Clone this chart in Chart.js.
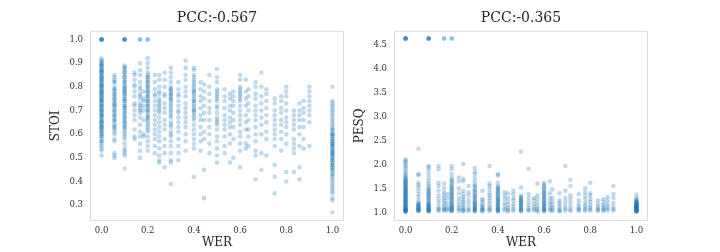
<!DOCTYPE html>
<html>
<head>
<meta charset="utf-8">
<script src="https://cdn.jsdelivr.net/npm/chart.js@4"></script>
<style>
  html, body { margin: 0; padding: 0; background: #fff; }
  .row { display: flex; width: 720px; height: 252px; }
  canvas { display: block; }
</style>
</head>
<body>
<div class="row">
  <canvas id="StoiChart" width="350" height="252"></canvas>
  <canvas id="PesqChart" width="370" height="252"></canvas>
</div>
<script>
// WER levels found in the test set (columns of points)
const werLevels = [0, 0.056, 0.1, 0.143, 0.167, 0.182, 0.2, 0.231, 0.25, 0.273, 0.3, 0.333, 0.364, 0.4, 0.429, 0.444, 0.467, 0.5, 0.533, 0.556, 0.571, 0.6, 0.625, 0.636, 0.667, 0.692, 0.714, 0.75, 0.778, 0.8, 0.833, 0.857, 0.875, 0.9, 1.0];

// STOI per WER level
const stoiByWer = [
    [0.92,0.91,0.91,0.90,0.90,0.89,0.89,0.89,0.88,0.88,0.87,0.87,0.87,0.86,0.86,0.86,0.85,0.85,0.84,0.84,0.84,0.83,0.83,0.83,0.82,0.82,0.81,0.81,0.81,0.80,0.80,0.80,0.79,0.79,0.78,0.78,0.78,0.77,0.77,0.77,0.76,0.76,0.75,0.75,0.75,0.74,0.74,0.74,0.73,0.73,0.72,0.72,0.72,0.71,0.71,0.70,0.70,0.70,0.69,0.69,0.68,0.68,0.68,0.67,0.67,0.66,0.66,0.65,0.65,0.65,0.64,0.64,0.63,0.63,0.63,0.62,0.62,0.61,0.61,0.60,0.60,0.59,0.59,0.58,0.57,0.57,0.56,0.55,0.54,0.53,0.51],
    [0.85,0.84,0.83,0.82,0.82,0.80,0.79,0.79,0.78,0.77,0.77,0.76,0.75,0.75,0.74,0.73,0.73,0.72,0.72,0.71,0.70,0.70,0.69,0.68,0.68,0.67,0.66,0.66,0.65,0.64,0.63,0.63,0.62,0.61,0.60,0.58,0.57,0.52,0.51,0.50],
    [0.89,0.88,0.88,0.87,0.86,0.86,0.85,0.84,0.84,0.83,0.82,0.82,0.81,0.80,0.80,0.79,0.79,0.78,0.78,0.77,0.77,0.76,0.75,0.75,0.74,0.74,0.73,0.72,0.72,0.71,0.71,0.70,0.69,0.69,0.68,0.67,0.67,0.66,0.65,0.65,0.64,0.63,0.63,0.62,0.61,0.60,0.59,0.58,0.56,0.54,0.53,0.52,0.51,0.455],
    [0.86,0.85,0.83,0.81,0.80,0.78,0.76,0.73,0.72,0.70,0.68,0.66,0.62,0.59,0.58],
    [0.90,0.87,0.85,0.82,0.80,0.79,0.77,0.76,0.75,0.73,0.72,0.71,0.70,0.69,0.67,0.64,0.61,0.59,0.56,0.53,0.50],
    [0.78,0.75,0.74,0.72,0.70,0.66,0.60,0.59],
    [0.92,0.90,0.88,0.86,0.85,0.84,0.84,0.83,0.82,0.82,0.81,0.80,0.80,0.79,0.78,0.78,0.77,0.76,0.76,0.75,0.74,0.74,0.73,0.72,0.72,0.71,0.70,0.70,0.69,0.68,0.67,0.67,0.66,0.65,0.64,0.63,0.62,0.61,0.59,0.57,0.55,0.53],
    [0.85,0.82,0.79,0.77,0.76,0.74,0.72,0.70,0.68,0.66,0.64,0.62,0.60,0.58,0.55,0.52],
    [0.85,0.83,0.80,0.78,0.77,0.75,0.74,0.73,0.72,0.71,0.70,0.69,0.67,0.65,0.63,0.61,0.59,0.57,0.54,0.51,0.49,0.48],
    [0.86,0.83,0.80,0.77,0.76,0.73,0.71,0.69,0.66,0.64,0.62,0.58,0.55,0.52,0.46],
    [0.88,0.86,0.84,0.82,0.80,0.79,0.79,0.78,0.77,0.77,0.76,0.75,0.75,0.74,0.73,0.72,0.71,0.70,0.69,0.68,0.67,0.65,0.64,0.63,0.61,0.60,0.59,0.57,0.55,0.52,0.49,0.48,0.39],
    [0.82,0.79,0.77,0.76,0.74,0.72,0.70,0.69,0.67,0.65,0.63,0.61,0.58,0.55,0.52,0.49],
    [0.91,0.88,0.85,0.83,0.80,0.78,0.76,0.73,0.71,0.69,0.67,0.65,0.63,0.60,0.57,0.53],
    [0.88,0.87,0.85,0.84,0.83,0.82,0.81,0.80,0.79,0.78,0.78,0.77,0.76,0.75,0.74,0.74,0.73,0.72,0.71,0.70,0.70,0.69,0.68,0.67,0.66,0.64,0.62,0.60,0.58,0.56,0.54,0.42],
    [0.82,0.79,0.76,0.74,0.71,0.68,0.66,0.63,0.60,0.57,0.53],
    [0.81,0.78,0.75,0.72,0.69,0.66,0.61,0.58,0.45,0.33],
    [0.85,0.80,0.77,0.74,0.71,0.69,0.66,0.63,0.60,0.56,0.52],
    [0.875,0.84,0.82,0.79,0.78,0.77,0.76,0.75,0.74,0.72,0.71,0.69,0.67,0.66,0.65,0.64,0.62,0.59,0.57,0.54,0.51,0.48],
    [0.79,0.76,0.74,0.71,0.68,0.66,0.64,0.62,0.59,0.55,0.52],
    [0.77,0.75,0.72,0.70,0.67,0.65,0.63,0.60,0.56,0.48],
    [0.78,0.76,0.74,0.72,0.69,0.66,0.63,0.58,0.50],
    [0.85,0.83,0.80,0.79,0.78,0.77,0.76,0.75,0.74,0.72,0.70,0.68,0.66,0.64,0.61,0.59,0.56,0.53,0.46],
    [0.83,0.78,0.75,0.72,0.68,0.65,0.62,0.56,0.54],
    [0.79,0.76,0.73,0.70,0.66,0.62,0.59,0.55],
    [0.82,0.80,0.77,0.75,0.72,0.70,0.68,0.66,0.63,0.60,0.57,0.53,0.51,0.41],
    [0.86,0.80,0.76,0.73,0.70,0.67,0.64,0.60,0.52,0.45],
    [0.79,0.77,0.74,0.71,0.68,0.65,0.61,0.58,0.51],
    [0.75,0.73,0.70,0.68,0.66,0.64,0.62,0.60,0.58,0.55,0.47,0.42,0.35],
    [0.76,0.74,0.71,0.69,0.66,0.64,0.61,0.58,0.53],
    [0.80,0.78,0.76,0.73,0.70,0.67,0.65,0.63,0.60,0.56,0.44,0.40],
    [0.70,0.68,0.66,0.64,0.62,0.58,0.56,0.54,0.52,0.44],
    [0.73,0.70,0.68,0.66,0.63,0.60,0.55,0.46,0.41],
    [0.74,0.71,0.69,0.66,0.63,0.58,0.54],
    [0.80,0.78,0.76,0.74,0.72,0.70,0.68,0.65,0.55],
    [0.80,0.74,0.73,0.72,0.71,0.70,0.69,0.68,0.67,0.66,0.65,0.64,0.63,0.62,0.62,0.61,0.60,0.60,0.60,0.59,0.59,0.58,0.58,0.57,0.57,0.56,0.56,0.56,0.55,0.55,0.54,0.54,0.53,0.53,0.52,0.52,0.52,0.51,0.51,0.50,0.50,0.49,0.49,0.48,0.48,0.47,0.47,0.46,0.46,0.45,0.45,0.44,0.43,0.43,0.42,0.41,0.40,0.39,0.38,0.37,0.36,0.35,0.33,0.32,0.27],
];

// PESQ per WER level
const pesqByWer = [
    [2.11,2.08,2.05,2.01,1.97,1.93,1.88,1.84,1.80,1.77,1.74,1.71,1.70,1.68,1.66,1.65,1.63,1.62,1.60,1.58,1.57,1.55,1.54,1.52,1.50,1.49,1.48,1.46,1.45,1.43,1.42,1.41,1.39,1.38,1.36,1.35,1.34,1.32,1.31,1.29,1.28,1.27,1.25,1.24,1.23,1.21,1.20,1.19,1.17,1.16,1.15,1.13,1.12,1.11,1.10,1.09,1.08,1.07,1.06,1.05,1.04,1.04,1.03,1.03,1.02,1.02,1.01],
    [2.33,1.80,1.78,1.62,1.57,1.52,1.45,1.38,1.32,1.25,1.20,1.18,1.17,1.15,1.14,1.12,1.10,1.09,1.08,1.07,1.06,1.05,1.04,1.03,1.02],
    [1.97,1.94,1.88,1.80,1.72,1.65,1.60,1.55,1.50,1.48,1.45,1.42,1.40,1.38,1.35,1.33,1.30,1.28,1.25,1.23,1.20,1.18,1.17,1.15,1.14,1.12,1.11,1.10,1.08,1.07,1.06,1.05,1.04,1.03,1.02,1.02],
    [1.97,1.90,1.62,1.55,1.45,1.35,1.27,1.20,1.12,1.08,1.05,1.03],
    [1.60,1.50,1.42,1.36,1.30,1.25,1.20,1.15,1.10,1.07,1.05,1.03],
    [1.38,1.30,1.20,1.12,1.07,1.04],
    [1.97,1.90,1.80,1.72,1.68,1.65,1.62,1.58,1.55,1.52,1.50,1.47,1.45,1.42,1.40,1.37,1.35,1.32,1.30,1.27,1.25,1.22,1.20,1.18,1.15,1.13,1.12,1.10,1.08,1.07,1.05,1.04,1.03,1.02],
    [1.73,1.65,1.50,1.40,1.30,1.22,1.15,1.10,1.06,1.03],
    [2.01,1.70,1.65,1.45,1.38,1.32,1.27,1.22,1.18,1.13,1.09,1.06,1.04,1.02],
    [1.55,1.42,1.35,1.25,1.18,1.10,1.05,1.03],
    [1.93,1.85,1.80,1.72,1.65,1.58,1.55,1.52,1.47,1.45,1.42,1.38,1.35,1.33,1.30,1.28,1.24,1.22,1.20,1.18,1.16,1.14,1.12,1.10,1.09,1.07,1.06,1.04,1.03,1.02],
    [1.45,1.28,1.25,1.20,1.15,1.12,1.10,1.07,1.05,1.04,1.02],
    [1.97,1.60,1.55,1.48,1.40,1.35,1.30,1.24,1.18,1.12,1.08,1.05,1.03],
    [1.80,1.77,1.62,1.55,1.52,1.50,1.47,1.45,1.42,1.40,1.37,1.35,1.32,1.30,1.28,1.26,1.24,1.22,1.20,1.18,1.16,1.14,1.12,1.10,1.08,1.07,1.05,1.04,1.03,1.02],
    [1.42,1.35,1.28,1.20,1.14,1.08,1.04],
    [1.40,1.30,1.22,1.15,1.09,1.05,1.02],
    [1.45,1.38,1.30,1.25,1.18,1.12,1.07,1.03],
    [2.27,1.52,1.35,1.32,1.30,1.28,1.26,1.24,1.22,1.20,1.18,1.16,1.14,1.12,1.10,1.08,1.06,1.05,1.03,1.02],
    [1.91,1.38,1.30,1.22,1.15,1.09,1.05,1.03],
    [1.30,1.25,1.18,1.12,1.07,1.04],
    [1.60,1.35,1.28,1.20,1.13,1.08,1.04,1.02],
    [1.62,1.58,1.55,1.52,1.48,1.45,1.42,1.40,1.37,1.35,1.32,1.30,1.27,1.25,1.22,1.20,1.18,1.16,1.14,1.12,1.10,1.08,1.06,1.05,1.03,1.02],
    [1.65,1.40,1.30,1.22,1.15,1.08,1.04],
    [1.48,1.30,1.22,1.15,1.10,1.05,1.03],
    [1.40,1.25,1.20,1.15,1.10,1.06,1.03,1.02],
    [1.97,1.45,1.30,1.22,1.14,1.08,1.04],
    [1.68,1.55,1.35,1.28,1.20,1.12,1.06,1.03],
    [1.38,1.25,1.18,1.12,1.08,1.05,1.03],
    [1.50,1.42,1.35,1.28,1.20,1.14,1.10,1.06,1.03],
    [1.62,1.40,1.35,1.28,1.22,1.15,1.10,1.06,1.04],
    [1.25,1.18,1.12,1.08,1.05,1.03],
    [1.28,1.22,1.16,1.12,1.08,1.05,1.03],
    [1.32,1.25,1.18,1.12,1.08,1.04],
    [1.55,1.38,1.30,1.20,1.12,1.07,1.04],
    [1.37,1.30,1.27,1.25,1.23,1.22,1.21,1.20,1.19,1.18,1.17,1.16,1.15,1.15,1.14,1.13,1.13,1.12,1.11,1.11,1.10,1.09,1.09,1.08,1.07,1.07,1.06,1.05,1.05,1.04,1.04,1.03,1.03,1.02,1.02,1.01],
];

// clean references (identical audio): STOI 1.0 / PESQ 4.64
const perfectWer = [0, 0, 0, 0, 0, 0, 0.1, 0.1, 0.1, 0.1, 0.1, 0.167, 0.167, 0.2, 0.2];
const perfectStoi = 1.0;
const perfectPesq = 4.64;

const werTicks = [0, 0.2, 0.4, 0.6, 0.8, 1.0];
const stoiTicks = [0.3, 0.4, 0.5, 0.6, 0.7, 0.8, 0.9, 1.0];
const pesqTicks = [1.0, 1.5, 2.0, 2.5, 3.0, 3.5, 4.0, 4.5];

const titles = ["PCC:-0.567", "PCC:-0.365"];

const FONT = "'DejaVu Serif', serif";
const TEXT = "#262626";
const DOT = "rgba(31, 119, 180, 0.28)";

function buildPoints(cols, perfectValue) {
    const pts = werLevels.flatMap((w, i) => cols[i].map(v => ({ x: w, y: v })));
    perfectWer.forEach(w => pts.push({ x: w, y: perfectValue }));
    return pts;
}

const boxPlugin = {
    id: "box",
    afterDraw(chart) {
        const { ctx, chartArea: a } = chart;
        ctx.save();
        ctx.strokeStyle = "#dddddd";
        ctx.lineWidth = 1;
        ctx.strokeRect(a.left + 0.5, a.top + 0.5, a.right - a.left - 1, a.bottom - a.top - 1);
        ctx.restore();
    },
};

function ScatterChart(id, title, yLabel, points, yTicks, yMin, yMax, yWidth, yTitlePad, rightPad) {
    const ctx = document.getElementById(id);

    new Chart(ctx, {
        type: "scatter",
        data: {
            datasets: [
                {
                    data: points,
                    backgroundColor: DOT,
                    borderWidth: 0,
                    pointRadius: 2.3,
                },
            ],
        },
        options: {
            responsive: false,
            animation: false,
            layout: {
                padding: { left: 0, right: rightPad, top: 0, bottom: 0 },
            },
            plugins: {
                legend: { display: false },
                tooltip: { enabled: false },
                title: {
                    display: true,
                    text: title,
                    fullSize: false,
                    color: TEXT,
                    font: { family: FONT, size: 14, weight: "normal" },
                    padding: { top: 10, bottom: 4 },
                },
            },
            scales: {
                x: {
                    type: "linear",
                    min: -0.05,
                    max: 1.05,
                    grid: { display: false, drawTicks: false },
                    border: { display: false },
                    afterBuildTicks: (s) => { s.ticks = werTicks.map(v => ({ value: v })); },
                    afterFit: (s) => { s.height = 31; },
                    ticks: {
                        color: "#333",
                        padding: 5,
                        font: { family: FONT, size: 8.5 },
                        callback: (v) => Number(v).toFixed(1),
                    },
                    title: {
                        display: true,
                        text: "WER",
                        color: TEXT,
                        font: { family: FONT, size: 12 },
                        padding: { top: 0, bottom: 2 },
                    },
                },
                y: {
                    type: "linear",
                    min: yMin,
                    max: yMax,
                    grid: { display: false, drawTicks: false },
                    border: { display: false },
                    afterBuildTicks: (s) => { s.ticks = yTicks.map(v => ({ value: v })); },
                    afterFit: (s) => { s.width = yWidth; },
                    ticks: {
                        color: "#333",
                        padding: 7,
                        font: { family: FONT, size: 8.5 },
                        callback: (v) => Number(v).toFixed(1),
                    },
                    title: {
                        display: true,
                        text: yLabel,
                        color: TEXT,
                        font: { family: FONT, size: 12 },
                        padding: { top: yTitlePad, bottom: 0 },
                    },
                },
            },
        },
        plugins: [boxPlugin],
    });
}

ScatterChart("StoiChart", titles[0], "STOI", buildPoints(stoiByWer, perfectStoi), stoiTicks, 0.2335, 1.0365, 90, 49, 6);
ScatterChart("PesqChart", titles[1], "PESQ", buildPoints(pesqByWer, perfectPesq), pesqTicks, 0.818, 4.80, 44, 3, 72);
</script>
</body>
</html>
